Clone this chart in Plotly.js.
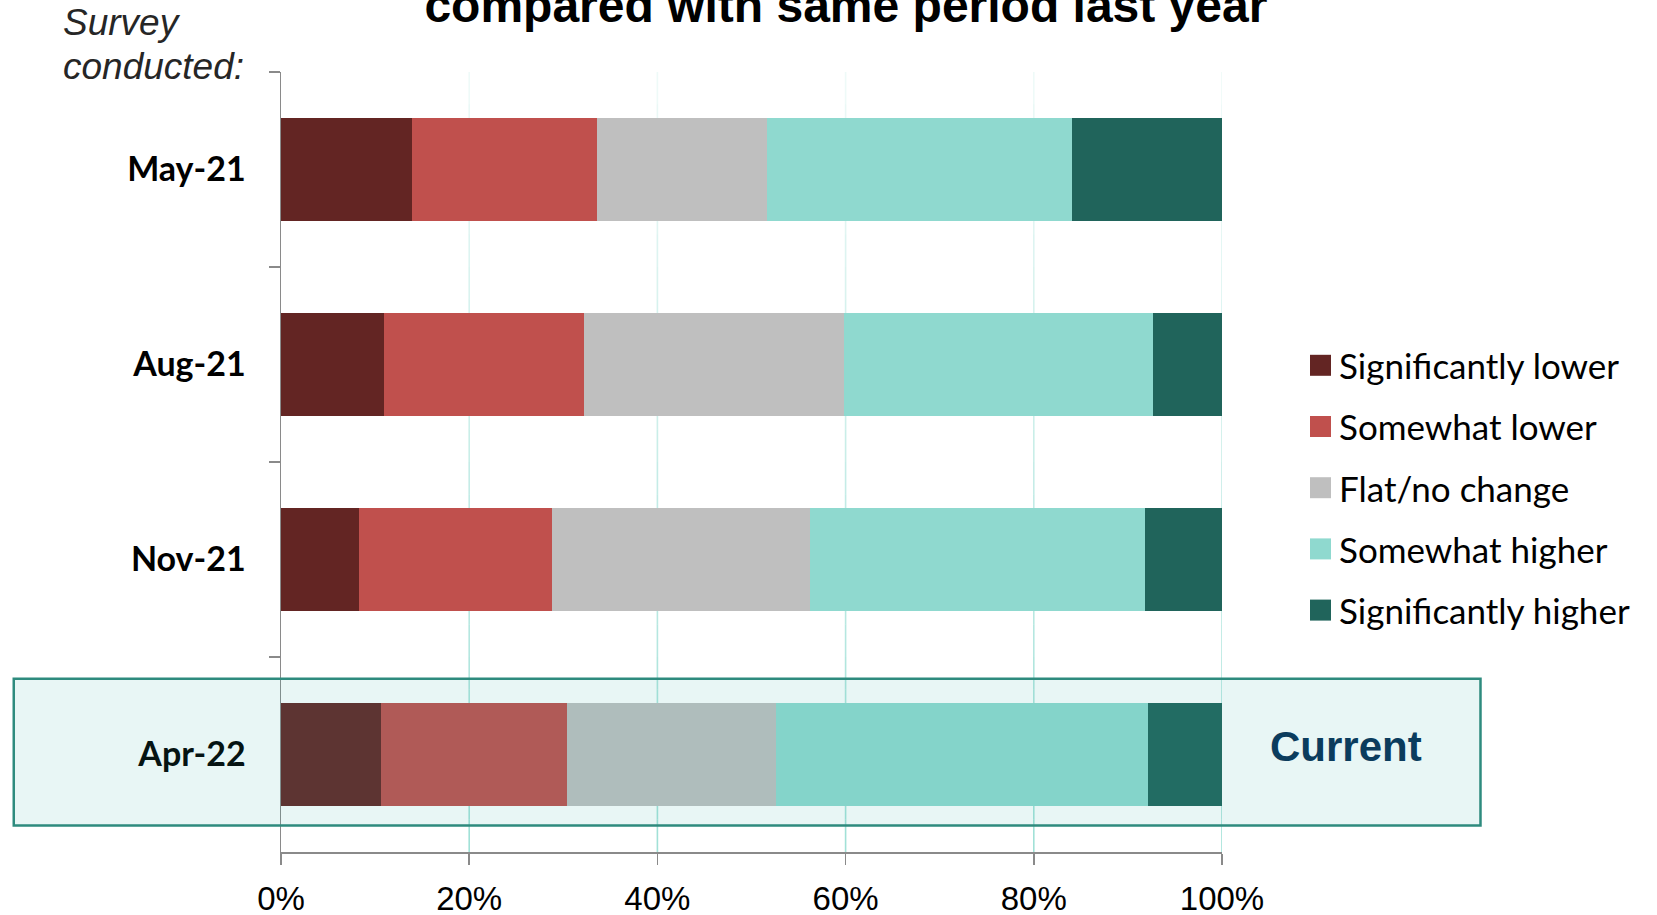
<!DOCTYPE html>
<html>
<head>
<meta charset="utf-8">
<script src="https://cdn.plot.ly/plotly-3.0.1.min.js"></script>
<style>
  html, body { margin: 0; padding: 0; background: #ffffff; }
  #chart { width: 1657px; height: 915px; }
</style>
</head>
<body>
<div id="chart"></div>
<script>
// Survey waves, top to bottom
const categories = ['May-21', 'Aug-21', 'Nov-21', 'Apr-22'];

// Share of respondents (%) per answer, one value per survey wave
const significantlyLower  = [13.9, 10.9, 8.3, 10.6];
const somewhatLower       = [19.7, 21.3, 20.5, 19.8];
const flatNoChange        = [18.0, 27.6, 27.4, 22.2];
const somewhatHigher      = [32.5, 32.9, 35.6, 39.5];
const significantlyHigher = [15.9, 7.3, 8.2, 7.9];

const seriesNames = ['Significantly lower', 'Somewhat lower', 'Flat/no change',
                     'Somewhat higher', 'Significantly higher'];
const seriesValues = [significantlyLower, somewhatLower, flatNoChange,
                      somewhatHigher, significantlyHigher];
const seriesColors = ['#632523', '#C0504D', '#BFBFBF', '#8FD9CF', '#20645B'];

const xTickVals = [0, 20, 40, 60, 80, 100];
const xTickText = ['0%', '20%', '40%', '60%', '80%', '100%'];

const titleText = 'compared with same period last year';
const highlightCategory = 'Apr-22';
const highlightLabel = 'Current';

const SANS = 'Liberation Sans, Arial, sans-serif';
const HUMANIST = 'Lato, Carlito, Calibri, sans-serif';

const traces = seriesNames.map((name, i) => ({
  type: 'bar',
  orientation: 'h',
  name: name,
  y: categories,
  x: seriesValues[i],
  marker: { color: seriesColors[i], line: { width: 0 } },
  showlegend: false,
  hovertemplate: '%{y}: %{x:.1f}%<extra>' + name + '</extra>'
}));

const shapes = [];
const annotations = [];

// Vertical gridlines that fade out towards the top of the plot
const gridSteps = 24;
xTickVals.slice(1).forEach(v => {
  for (let k = 0; k < gridSteps; k++) {
    const a = 0.62 - 0.52 * (k + 0.5) / gridSteps;
    shapes.push({
      type: 'line', layer: 'below',
      xref: 'x', x0: v, x1: v,
      yref: 'paper', y0: k / gridSteps, y1: (k + 1) / gridSteps,
      line: { color: 'rgba(100,205,190,' + a.toFixed(3) + ')', width: 1.6 }
    });
  }
});

// Highlight band around the latest survey wave
const hIdx = categories.indexOf(highlightCategory);
shapes.push({
  type: 'rect', layer: 'above',
  xref: 'paper', x0: -0.284, x1: 1.2747,
  yref: 'y', y0: hIdx - 0.388, y1: hIdx + 0.364,
  fillcolor: 'rgba(49,176,165,0.115)',
  line: { color: '#2E8B7E', width: 2.5 }
});
annotations.push({
  xref: 'paper', x: 1.1318, xanchor: 'center',
  yref: 'y', y: highlightCategory, yanchor: 'middle', yshift: 8,
  text: '<b>' + highlightLabel + '</b>', showarrow: false,
  font: { family: SANS, size: 42, color: '#0B3C5D' }
});

// Axis caption above the category labels
annotations.push({
  xref: 'paper', x: -0.2335, xanchor: 'left',
  yref: 'paper', y: 1.0635, yanchor: 'middle',
  text: '<i>Survey</i>', showarrow: false,
  font: { family: SANS, size: 37, color: '#262626' }
});
annotations.push({
  xref: 'paper', x: -0.2335, xanchor: 'left',
  yref: 'paper', y: 1.0075, yanchor: 'middle',
  text: '<i>conducted:</i>', showarrow: false,
  font: { family: SANS, size: 37, color: '#262626' }
});

// Legend: colour swatch plus label for every series
const plotTop = 72, plotH = 780, plotLeft = 281, plotW = 941;
const legendFirst = 365.3, legendStep = 61.2, swatch = 21;
seriesNames.forEach((name, i) => {
  const cy = legendFirst + legendStep * i;
  const yc = 1 - (cy - plotTop) / plotH;
  shapes.push({
    type: 'rect', xref: 'paper', yref: 'paper',
    x0: (1310 - plotLeft) / plotW, x1: (1310 + swatch - plotLeft) / plotW,
    y0: yc - swatch / 2 / plotH, y1: yc + swatch / 2 / plotH,
    fillcolor: seriesColors[i], line: { width: 0 }
  });
  annotations.push({
    xref: 'paper', x: (1337 - plotLeft) / plotW, xanchor: 'left',
    yref: 'paper', y: yc, yanchor: 'middle',
    text: name, showarrow: false,
    font: { family: HUMANIST, size: 35, color: '#000000' }
  });
});

const layout = {
  width: 1657,
  height: 915,
  margin: { l: 281, r: 435, t: 72, b: 63 },
  paper_bgcolor: '#ffffff',
  plot_bgcolor: 'rgba(0,0,0,0)',
  barmode: 'stack',
  bargap: 0.47,
  showlegend: false,
  title: {
    text: '<b>' + titleText + '</b>',
    font: { family: SANS, size: 48, color: '#000000' },
    xref: 'container', x: 0.5105, xanchor: 'center',
    yref: 'container', y: 0.9945, yanchor: 'middle'
  },
  xaxis: {
    range: [0, 100],
    tickvals: xTickVals,
    ticktext: xTickText,
    ticks: 'outside', ticklen: 11, tickwidth: 1.5, tickcolor: '#8a8a8a',
    showline: true, linecolor: '#8a8a8a', linewidth: 1.8,
    showgrid: false, zeroline: false,
    ticklabelstandoff: 6,
    tickfont: { family: SANS, size: 33, color: '#000000' },
    fixedrange: true
  },
  yaxis: {
    type: 'category',
    categoryorder: 'array',
    categoryarray: categories,
    range: [categories.length - 0.5, -0.5],
    tickson: 'boundaries',
    ticks: 'outside', ticklen: 11, tickwidth: 1.5, tickcolor: '#8a8a8a',
    showline: true, linecolor: '#8a8a8a', linewidth: 1.5,
    showgrid: false, zeroline: false,
    ticklabelstandoff: 27,
    tickfont: { family: HUMANIST, size: 34, color: '#000000', weight: 700 },
    fixedrange: true
  },
  shapes: shapes,
  annotations: annotations
};

Plotly.newPlot('chart', traces, layout, { displayModeBar: false, staticPlot: true });
</script>
</body>
</html>
